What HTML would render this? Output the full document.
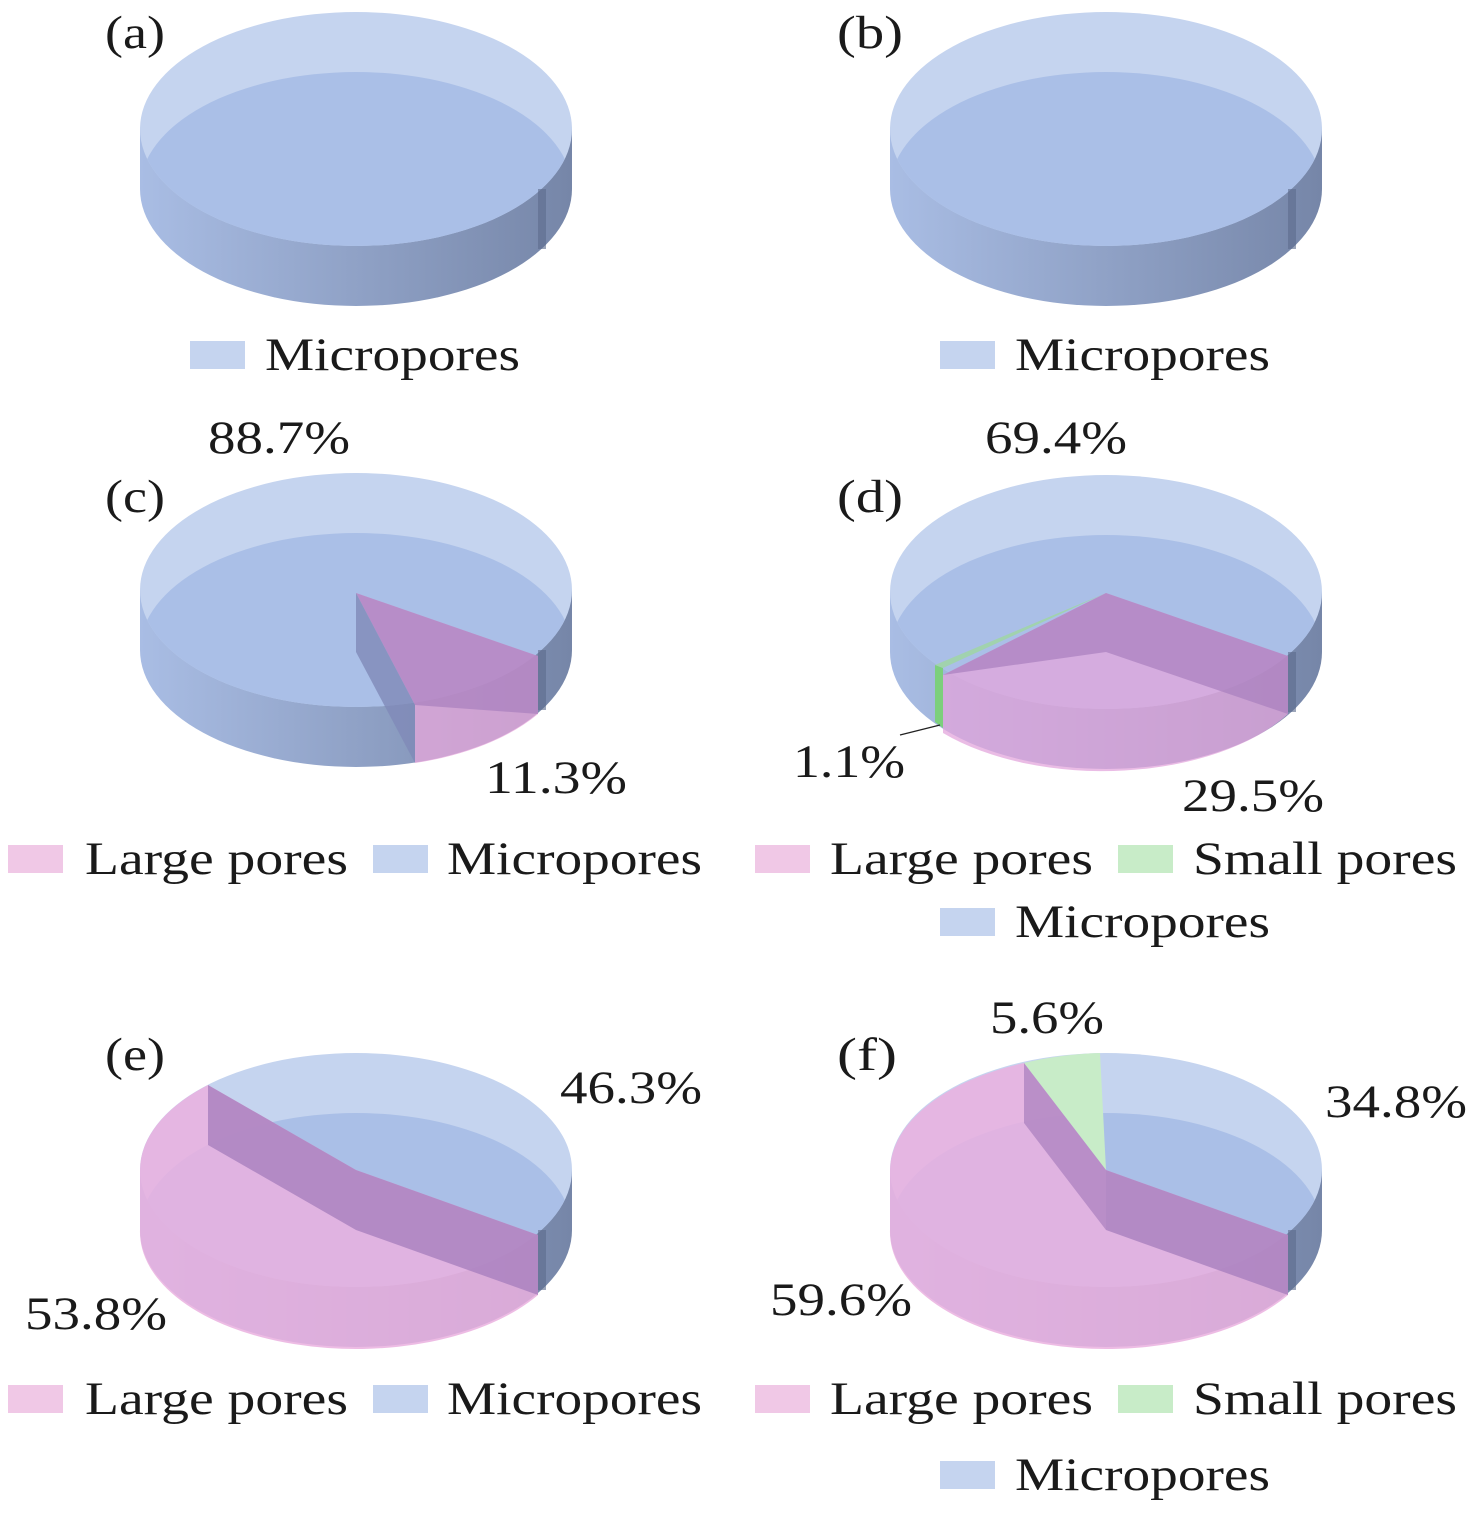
<!DOCTYPE html>
<html><head><meta charset="utf-8"><style>
body{margin:0;background:#fff}
text{font-family:"Liberation Serif",serif;fill:#1a1a1a}
</style></head><body>
<svg width="1476" height="1509" viewBox="0 0 1476 1509" xmlns="http://www.w3.org/2000/svg">
<defs>
<linearGradient id="gb" x1="0" x2="1"><stop offset="0" stop-color="#a9bde4"/><stop offset="1" stop-color="#7686a8"/></linearGradient>
<linearGradient id="gp" gradientUnits="userSpaceOnUse" x1="-216" x2="216"><stop offset="0" stop-color="#e4a8e0"/><stop offset="1" stop-color="#9a7a9e"/></linearGradient>
<g id="pie">
<path d="M-216,0 L-216,60 A216,117 0 0 0 216,60 L216,0 Z" fill="url(#gb)"/>
<ellipse cx="0" cy="0" rx="216" ry="117" fill="#c5d4ef"/>
<clipPath id="cp"><ellipse cx="0" cy="0" rx="216" ry="117"/></clipPath>
<ellipse cx="0" cy="60" rx="216" ry="117" fill="#aabfe7" clip-path="url(#cp)"/>
<rect x="182" y="60" width="8" height="60" fill="#5c6b8c" opacity="0.6"/>
</g>
<path id="pside" d="M-216,0 L-216,60 A216,117 0 0 0 216,60 L216,0 A216,117 0 0 1 -216,0 Z" fill="url(#gp)"/>
</defs>
<g font-size="47">
<use href="#pie" x="356" y="129"/>
<use href="#pie" x="1106" y="129"/>
<use href="#pie" x="356" y="590"/>
<use href="#pie" x="1106" y="592"/>
<use href="#pie" x="356" y="1170"/>
<use href="#pie" x="1106" y="1170"/>

<path d="M356,593 L538,656 L538,714 A216,117 0 0 1 415,763 L415,705 Z" fill="#e8a8dc" opacity="0.75"/>
<path d="M356,593 L538,656 L538,714 L415,705 Z" fill="#a87fbe" opacity="0.7"/>
<path d="M356,593 L356,652 L415,763 L415,705 Z" fill="#7f89b8" opacity="0.8"/>
<path d="M1106,593 L1288,656 L1288,714 A216,117 0 0 1 943,733 L943,675 Z" fill="#e3a6dc" opacity="0.75"/>
<path d="M1106,593 L1288,656 L1288,714 L1106,652 L943,675 Z" fill="#a87fbe" opacity="0.7"/>
<path d="M935,665 L943,668 L943,728 L935,722 Z" fill="#7ccf7c"/>
<path d="M935,665 L1106,593 L943,668 Z" fill="#9fd7a0" opacity="0.8"/>
<line x1="900" y1="735" x2="940" y2="725" stroke="#222" stroke-width="1.2"/>
<path d="M208,1085 A216,117 0 0 0 140,1170 L140,1230 A216,117 0 0 0 538,1295 L538,1235 L356,1170 Z" fill="#eab0df" opacity="0.85"/>
<clipPath id="ce"><path d="M140,1170 L140,1230 A216,117 0 0 0 538,1295 L538,1170 Z"/></clipPath>
<use href="#pside" x="356" y="1170" clip-path="url(#ce)" opacity="0.6"/>
<path d="M208,1085 L208,1145 L356,1230 L538,1295 L538,1235 L356,1170 Z" fill="#a87fbe" opacity="0.8"/>
<path d="M1024,1063 A216,117 0 0 0 890,1170 L890,1230 A216,117 0 0 0 1288,1295 L1288,1235 L1106,1170 Z" fill="#eab0df" opacity="0.85"/>
<clipPath id="cf"><path d="M890,1170 L890,1230 A216,117 0 0 0 1288,1295 L1288,1170 Z"/></clipPath>
<use href="#pside" x="1106" y="1170" clip-path="url(#cf)" opacity="0.6"/>
<path d="M1106,1170 L1024,1063 A216,117 0 0 1 1100,1053 Z" fill="#c8ecc8"/>
<path d="M1024,1063 L1024,1123 L1106,1230 L1106,1170 Z" fill="#a87fbe" opacity="0.7"/>
<path d="M1106,1170 L1288,1235 L1288,1295 L1106,1230 Z" fill="#a87fbe" opacity="0.8"/>

<text x="105" y="48" textLength="60" lengthAdjust="spacingAndGlyphs">(a)</text><text x="837" y="48" textLength="66" lengthAdjust="spacingAndGlyphs">(b)</text>
<text x="105" y="512" textLength="60" lengthAdjust="spacingAndGlyphs">(c)</text><text x="837" y="512" textLength="66" lengthAdjust="spacingAndGlyphs">(d)</text>
<text x="105" y="1070" textLength="60" lengthAdjust="spacingAndGlyphs">(e)</text><text x="837" y="1070" textLength="60" lengthAdjust="spacingAndGlyphs">(f)</text>

<text x="208" y="453" textLength="142" lengthAdjust="spacingAndGlyphs">88.7%</text><text x="985" y="453" textLength="142" lengthAdjust="spacingAndGlyphs">69.4%</text>
<text x="485" y="793" textLength="142" lengthAdjust="spacingAndGlyphs">11.3%</text><text x="793" y="777" textLength="112" lengthAdjust="spacingAndGlyphs">1.1%</text><text x="1182" y="811" textLength="142" lengthAdjust="spacingAndGlyphs">29.5%</text>
<text x="560" y="1103" textLength="142" lengthAdjust="spacingAndGlyphs">46.3%</text><text x="25" y="1329" textLength="142" lengthAdjust="spacingAndGlyphs">53.8%</text>
<text x="990" y="1033" textLength="114" lengthAdjust="spacingAndGlyphs">5.6%</text><text x="1325" y="1117" textLength="142" lengthAdjust="spacingAndGlyphs">34.8%</text><text x="770" y="1315" textLength="142" lengthAdjust="spacingAndGlyphs">59.6%</text>

<rect x="190" y="341" width="55" height="28" fill="#c5d4ef"/><text x="265" y="370" textLength="255" lengthAdjust="spacingAndGlyphs">Micropores</text>
<rect x="940" y="341" width="55" height="28" fill="#c5d4ef"/><text x="1015" y="370" textLength="255" lengthAdjust="spacingAndGlyphs">Micropores</text>

<rect x="8" y="845" width="55" height="28" fill="#f0c8e6"/><text x="85" y="874" textLength="263" lengthAdjust="spacingAndGlyphs">Large pores</text>
<rect x="373" y="845" width="55" height="28" fill="#c5d4ef"/><text x="447" y="874" textLength="255" lengthAdjust="spacingAndGlyphs">Micropores</text>
<rect x="755" y="845" width="55" height="28" fill="#f0c8e6"/><text x="830" y="874" textLength="263" lengthAdjust="spacingAndGlyphs">Large pores</text>
<rect x="1118" y="845" width="55" height="28" fill="#c8ecc8"/><text x="1193" y="874" textLength="264" lengthAdjust="spacingAndGlyphs">Small pores</text>
<rect x="940" y="908" width="55" height="28" fill="#c5d4ef"/><text x="1015" y="937" textLength="255" lengthAdjust="spacingAndGlyphs">Micropores</text>

<rect x="8" y="1385" width="55" height="28" fill="#f0c8e6"/><text x="85" y="1414" textLength="263" lengthAdjust="spacingAndGlyphs">Large pores</text>
<rect x="373" y="1385" width="55" height="28" fill="#c5d4ef"/><text x="447" y="1414" textLength="255" lengthAdjust="spacingAndGlyphs">Micropores</text>
<rect x="755" y="1385" width="55" height="28" fill="#f0c8e6"/><text x="830" y="1414" textLength="263" lengthAdjust="spacingAndGlyphs">Large pores</text>
<rect x="1118" y="1385" width="55" height="28" fill="#c8ecc8"/><text x="1193" y="1414" textLength="264" lengthAdjust="spacingAndGlyphs">Small pores</text>
<rect x="940" y="1461" width="55" height="28" fill="#c5d4ef"/><text x="1015" y="1490" textLength="255" lengthAdjust="spacingAndGlyphs">Micropores</text>
</g>
</svg>
</body></html>
